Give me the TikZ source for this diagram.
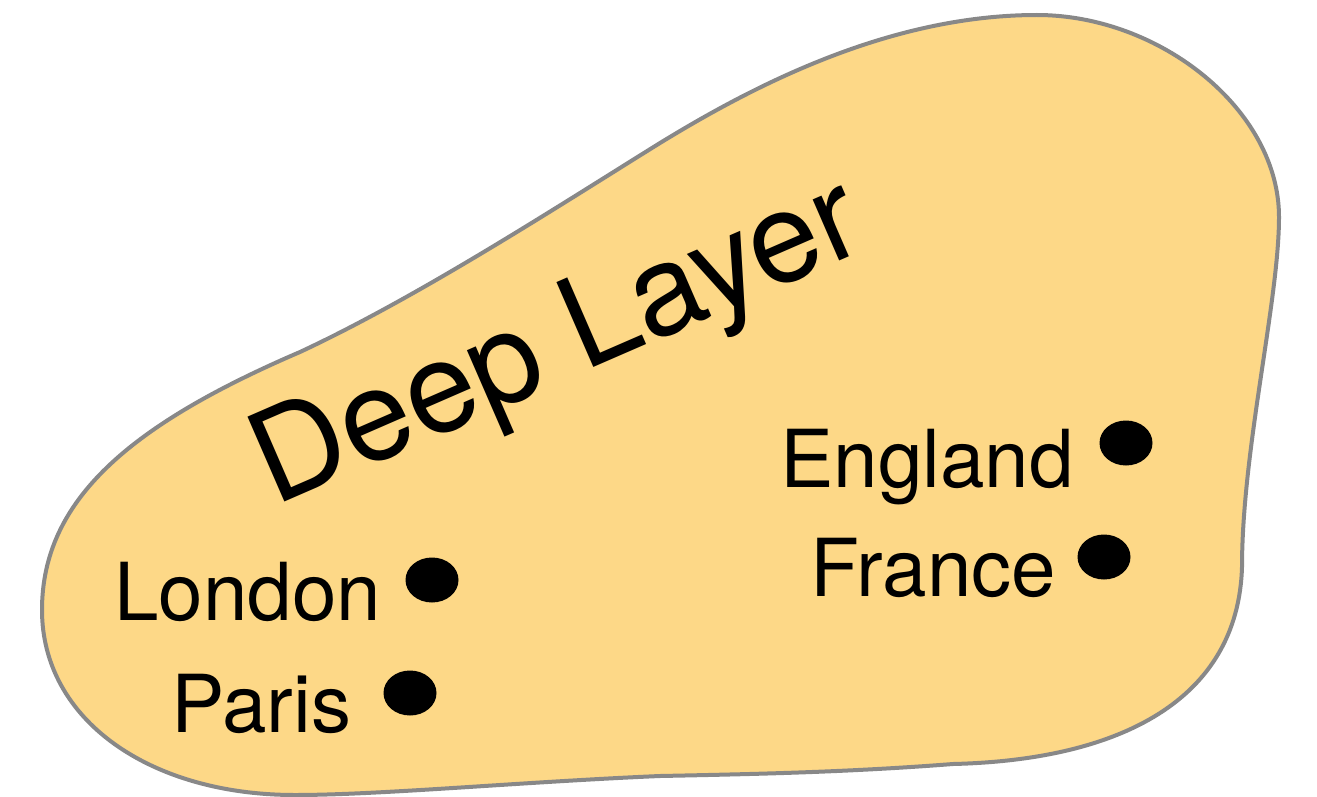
\documentclass[tikz,border=0pt]{standalone}
\usepackage{fontspec}
\setmainfont{TeX Gyre Heros}
\usetikzlibrary{shapes.geometric}
\definecolor{blobfill}{RGB}{253,216,135}
\definecolor{blobline}{RGB}{136,136,136}
\tikzset{
  place/.style={anchor=base west, inner sep=0pt, font=\fontsize{80}{96}\selectfont},
  title/.style={anchor=base west, inner sep=0pt, rotate=23.5, font=\fontsize{127}{150}\selectfont},
  dot/.style={ellipse, fill=black, draw=none, minimum width=53pt, minimum height=45pt, inner sep=0pt},
  blob/.style={fill=blobfill, draw=blobline, line width=4pt}
}
\begin{document}
\begin{tikzpicture}[x=1pt,y=-1pt]
\useasboundingbox (0,0) rectangle (1317,797);
\draw[blob] (42,610)
  .. controls (42,500) and (130,425) .. (300,352)
  .. controls (420,296) and (560,205) .. (660,143)
  .. controls (750,88) and (887,15) .. (1037,15)
  .. controls (1160,15) and (1279,110) .. (1279,217)
  .. controls (1279,300) and (1242,450) .. (1242,567)
  .. controls (1238,700) and (1120,760) .. (953,764)
  .. controls (850,772) and (760,774) .. (660,776)
  .. controls (520,782) and (380,795) .. (295,795)
  .. controls (150,795) and (42,720) .. (42,610) -- cycle;
\node[title] (deep) at (274,507) {Deep Layer};
\node[place] (london) at (114,620) {London};
\node[place] (paris) at (171,732) {Paris};
\node[place] (england) at (780,487) {England};
\node[place] (france) at (810,596) {France};
\node[dot] (dlondon) at (432,580) {};
\node[dot] (dparis) at (410,693) {};
\node[dot] (dengland) at (1126,443) {};
\node[dot] (dfrance) at (1104,557) {};
\end{tikzpicture}
\end{document}
